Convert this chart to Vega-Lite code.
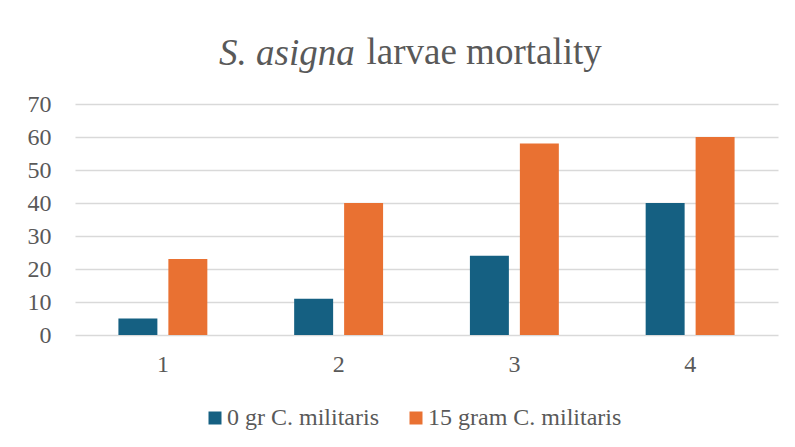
{
  "$schema": "https://vega.github.io/schema/vega-lite/v6.json",
  "autosize": "none",
  "width": 703,
  "height": 231,
  "padding": {"left": 75, "top": 104, "right": 17, "bottom": 112},
  "background": "white",
  "title": {
    "text": "S. asigna",
    "anchor": "start",
    "frame": "group",
    "dx": 144,
    "offset": 10,
    "dy": 79,
    "baseline": "alphabetic",
    "font": "Liberation Serif, Times New Roman, serif",
    "fontStyle": "italic",
    "fontWeight": "normal",
    "fontSize": 37,
    "color": "#595959"
  },
  "data": {
    "values": [
      {"week": "1", "series": "0 gr C. militaris", "mortality": 5},
      {"week": "1", "series": "15 gram C. militaris", "mortality": 23},
      {"week": "2", "series": "0 gr C. militaris", "mortality": 11},
      {"week": "2", "series": "15 gram C. militaris", "mortality": 40},
      {"week": "3", "series": "0 gr C. militaris", "mortality": 24},
      {"week": "3", "series": "15 gram C. militaris", "mortality": 58},
      {"week": "4", "series": "0 gr C. militaris", "mortality": 40},
      {"week": "4", "series": "15 gram C. militaris", "mortality": 60}
    ]
  },
  "mark": {"type": "bar"},
  "encoding": {
    "x": {
      "field": "week",
      "type": "nominal",
      "scale": {"paddingInner": 0.494, "paddingOuter": 0.247},
      "axis": {
        "title": null,
        "labelAngle": 0,
        "labelFont": "Liberation Serif",
        "labelFontSize": 24,
        "labelColor": "#595959",
        "labelPadding": 17,
        "ticks": false,
        "domain": false,
        "grid": false
      }
    },
    "xOffset": {
      "field": "series",
      "type": "nominal",
      "scale": {"paddingInner": 0.22, "paddingOuter": 0}
    },
    "y": {
      "field": "mortality",
      "type": "quantitative",
      "scale": {"domain": [0, 70], "nice": false},
      "axis": {
        "title": "larvae mortality",
        "titleAngle": 0,
        "titleX": 291,
        "titleY": -41,
        "titleAlign": "left",
        "titleBaseline": "alphabetic",
        "titleFont": "Liberation Serif",
        "titleFontSize": 37,
        "titleFontWeight": "normal",
        "titleColor": "#595959",
        "values": [0, 10, 20, 30, 40, 50, 60, 70],
        "labelFont": "Liberation Serif",
        "labelFontSize": 24,
        "labelColor": "#595959",
        "labelPadding": 24,
        "ticks": false,
        "domain": false,
        "grid": true,
        "gridColor": "#D9D9D9",
        "gridWidth": 1.5
      }
    },
    "color": {
      "field": "series",
      "type": "nominal",
      "scale": {
        "domain": ["0 gr C. militaris", "15 gram C. militaris"],
        "range": ["#156082", "#E97132"]
      },
      "legend": {
        "title": null,
        "orient": "none",
        "direction": "horizontal",
        "legendX": 128,
        "legendY": 302,
        "symbolType": "square",
        "symbolSize": 169,
        "symbolStrokeWidth": 0,
        "labelFont": "Liberation Serif",
        "labelFontSize": 24,
        "labelColor": "#595959",
        "labelOffset": 0,
        "labelLimit": 400,
        "columnPadding": 25
      }
    }
  },
  "config": {
    "view": {"stroke": null}
  }
}
